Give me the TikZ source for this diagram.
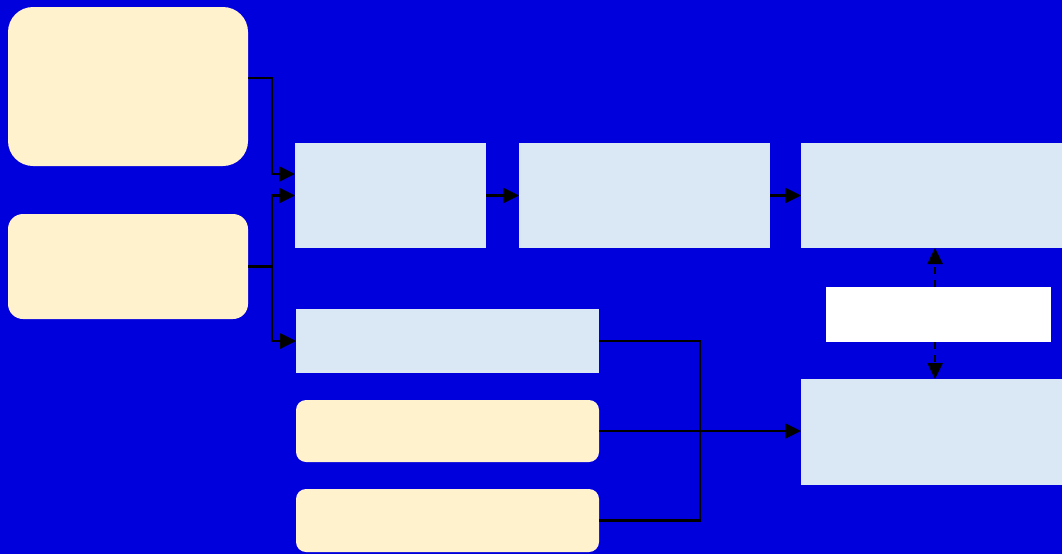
\documentclass[tikz,border=0pt]{standalone}
\usetikzlibrary{arrows.meta}
\definecolor{bgblue}{RGB}{0,0,221}
\definecolor{creamfill}{RGB}{255,242,204}
\definecolor{paleblue}{RGB}{218,232,246}
\begin{document}
\begin{tikzpicture}[x=1pt,y=-1pt,
  boxbase/.style={inner sep=0pt, outer sep=0pt, draw=none},
  creambox/.style={boxbase, fill=creamfill},
  bluebox/.style={boxbase, fill=paleblue},
  whitebox/.style={boxbase, fill=white},
  conn/.style={draw=black, line width=2.6pt, -{Triangle[length=16pt,width=15pt]}},
  plainline/.style={draw=black, line width=2.6pt},
  dashconn/.style={conn, dash pattern=on 7pt off 6pt}]
\fill[bgblue] (0,0) rectangle (1062,554);
\useasboundingbox (0,0) rectangle (1062,554);
% nodes
\node[creambox, rounded corners=25pt, minimum width=240pt, minimum height=159pt] (A) at (128,86.5) {};
\node[creambox, rounded corners=15pt, minimum width=240pt, minimum height=105pt] (B) at (128,266.5) {};
\node[bluebox, minimum width=191pt, minimum height=105pt] (C) at (390.5,195.5) {};
\node[bluebox, minimum width=251pt, minimum height=105pt] (D) at (644.5,195.5) {};
\node[bluebox, minimum width=261pt, minimum height=105pt] (E) at (931.5,195.5) {};
\node[bluebox, minimum width=303pt, minimum height=64pt] (F) at (447.5,341) {};
\node[creambox, rounded corners=10pt, minimum width=303pt, minimum height=62pt] (G) at (447.5,431) {};
\node[creambox, rounded corners=10pt, minimum width=303pt, minimum height=63pt] (H) at (447.5,520.5) {};
\node[whitebox, minimum width=225pt, minimum height=55pt] (I) at (938.5,314.5) {};
\node[bluebox, minimum width=261pt, minimum height=106pt] (J) at (931.5,432) {};
% connectors
\draw[conn] ([yshift=8.5pt]A.east) -- ++(24,0) |- ([yshift=21.5pt]C.west);
\draw[conn] (B.east) -- ++(24,0) |- (C.west);
\draw[conn] (B.east) -- ++(24,0) |- (F.west);
\draw[conn] (C.east) -- (D.west);
\draw[conn] (D.east) -- (E.west);
\draw[plainline] (F.east) -- ++(101,0) |- (H.east);
\draw[conn] (G.east) -- (G.east -| J.west);
\draw[dashconn] ([xshift=-3.5pt]I.north) -- ([xshift=-3.5pt]I.north |- E.south);
\draw[dashconn] ([xshift=-3.5pt]I.south) -- ([xshift=-3.5pt]I.south |- J.north);
\end{tikzpicture}
\end{document}
